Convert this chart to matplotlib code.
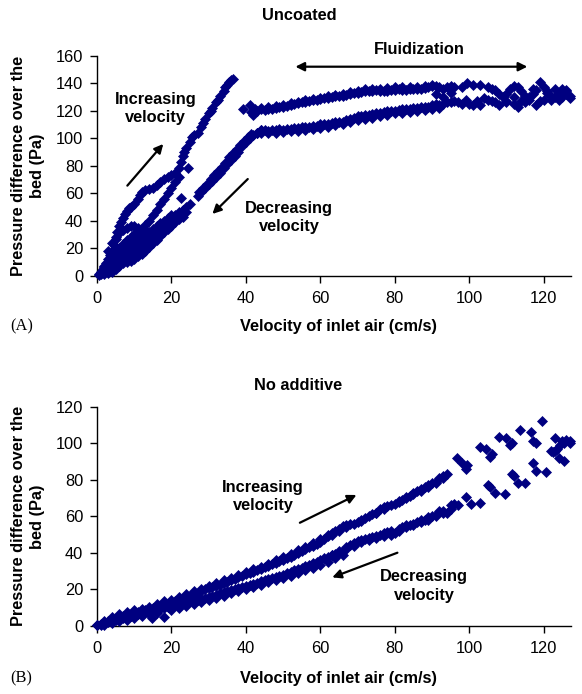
import matplotlib
matplotlib.use('Agg')
import matplotlib.pyplot as plt

plt.rcParams['font.family'] = ['Liberation Sans', 'DejaVu Sans']

NAVY = '#000080'
FS = 11.8

# ---------------- (A) Uncoated ----------------
# first rise (outer band)
ua_x = [0.5, 1, 1.5, 2, 2.5, 3, 3.5, 4, 4.5, 5, 5.5, 6, 6.5, 7, 7.5, 8, 8.5, 9, 10, 11,
        11.5, 12, 13, 14, 15, 16, 17, 18, 19, 20, 21, 22, 22.5, 23, 23.5, 24, 25, 25.5, 26, 27,
        28, 28.5, 29, 30, 30.5, 31, 32, 32.5, 33, 34, 34.5, 35, 35.5, 36, 36.5]
ua_y = [1, 3, 5, 7, 9, 12, 15, 18, 22, 27, 32, 36, 39, 42, 45, 47, 49, 50, 52, 56,
        59, 61, 62, 63, 64, 66, 68, 70, 72, 73, 75, 78, 83, 87, 90, 93, 97, 101, 102, 104,
        108, 111, 114, 118, 120, 122, 126, 128, 131, 134, 137, 139, 141, 142, 143]
# inner rise
ub_x = [1, 2, 3, 4, 5, 6, 7, 8, 9, 10, 11, 12, 13, 14, 15, 16, 17, 18, 19, 20, 21, 22]
ub_y = [2, 5, 9, 13, 17, 20, 23, 26, 28, 30, 32, 34, 37, 40, 44, 48, 52, 56, 60, 64, 68, 72]
# small loop
uc_x = [3, 4, 5, 6, 7, 8, 9, 10, 11, 12, 13, 14, 15, 16, 17]
uc_y = [18, 24, 28, 31, 33, 35, 36, 36, 35, 34, 33, 31, 30, 30, 31]
# decreasing branch
da_x = [0.5, 1, 2, 3, 4, 5, 6, 7, 8, 9, 10, 11, 12, 13, 14, 15, 16, 17, 18, 19,
        20, 21, 22, 23, 24, 25, 27, 28, 29, 30, 31, 32, 33, 34, 35, 36, 37, 38, 39, 40,
        41, 42, 43, 44]
da_y = [0.5, 1.5, 3, 4, 6, 8, 10, 12, 14, 16, 18, 20, 22, 24, 27, 30, 32, 34, 37, 39,
        41, 44, 46, 48, 50, 52, 58, 61, 64, 67, 69, 72, 75, 78, 81, 84, 87, 90, 94, 97,
        100, 102, 104, 106]
db_x = [1, 2, 3, 4, 5, 6, 7, 8, 9, 10, 11, 12, 13, 14, 15, 16, 17, 18, 19, 20]
db_y = [3, 6, 8, 11, 14, 16, 18, 20, 22, 24, 26, 28, 30, 32, 34, 36, 38, 40, 42, 44]
dc_x = [2, 3, 4, 5, 6, 7, 8, 9, 10, 11, 12, 13, 14, 15, 16, 17, 18, 19, 20, 21, 22, 23, 24]
dc_y = [1, 2, 3, 5, 7, 9, 10, 11, 12, 14, 16, 18, 21, 24, 26, 29, 32, 34, 36, 39, 41, 43, 46]
dd_x = [27.5, 28.5, 29.5, 30.5, 31.5, 32.5, 33.5, 34.5, 35.5, 36.5, 37.5, 38.5, 39.5, 40.5, 41.5]
dd_y = [61, 64, 67, 70, 73, 76, 79, 82, 86, 89, 92, 95, 98, 101, 103]
iso_x = [22.6, 24.4]
iso_y = [56.5, 78.5]
# fluidization, upper run
ph_x = [39.2, 41, 41.5, 42, 42.5, 43, 44, 45, 46, 47, 48, 49, 50, 51, 52, 53, 54, 55, 56, 57,
        58, 59, 60, 61, 62, 63, 64, 65, 66, 67, 68, 69, 70, 71, 72, 73, 74, 75, 76, 77,
        78, 79, 80, 81, 82, 83, 84, 85, 86, 87, 88, 89, 90, 91, 92, 93, 94, 95, 96, 98,
        99.5, 101, 103, 105, 106, 107, 108, 109, 110, 111, 112, 113, 114, 115, 116, 117, 118, 119, 120, 121,
        122, 123, 124, 125, 126, 127]
ph_y = [121.5, 124, 119, 117, 121, 120, 121, 120.5, 121, 121.5, 122, 122.5, 123, 123.5, 124, 125, 125.5, 126, 126.5, 127,
        127.5, 128, 128.5, 129, 129.5, 130, 130.5, 131, 131, 131.5, 132, 133, 133, 133.5, 134, 134, 134.5, 135, 134, 134,
        134.5, 135, 135, 135.5, 135, 135, 135.5, 136, 136, 136, 136.5, 137, 138, 138, 137, 136, 137, 138, 137, 137,
        140, 139, 139, 137, 136, 135, 132, 130, 132, 136, 138, 137, 134, 131, 130, 136, 135, 141, 137, 134,
        131, 130, 133, 136, 134, 131]
ph2_x = [44, 46, 48, 50, 52, 54, 56, 58, 60, 62, 64, 66, 68, 70, 72, 74, 76, 78, 80, 82, 84, 86, 88, 90]
ph2_y = [122, 122.5, 123.5, 124.5, 125.5, 126.5, 127.5, 128.5, 129.5, 130.5, 131.5, 132.5, 133.5, 134.5, 135.5, 136,
         136, 136.5, 137, 137, 137.5, 137.5, 138, 138.5]
# fluidization, lower run
pl_x = [43, 44, 45, 46, 47, 48, 49, 50, 51, 52, 53, 54, 55, 56, 57, 58, 59, 60, 61, 62,
        63, 64, 65, 66, 67, 68, 69, 70, 71, 72, 73, 74, 75, 76, 77, 78, 79, 80, 81, 82,
        83, 84, 85, 86, 87, 88, 89, 90, 91, 92, 93, 94, 95, 96, 97, 98, 99, 100, 101, 102,
        103, 104, 105, 106, 107, 108, 110, 112, 113, 114, 116, 118, 119, 120, 122, 124, 125, 126, 127]
pl_y = [104, 106, 106, 105, 106, 106, 106.5, 106, 107, 107, 107.5, 107.5, 108, 108, 108.5, 109, 109, 110, 110, 110.5,
        111, 111.5, 112, 112, 113, 114, 115, 116, 116.5, 117, 117, 117.5, 118, 118, 119, 119.5, 120, 120, 120.5, 121,
        121, 121.5, 122, 122, 122.5, 123, 123, 124, 125, 124, 125, 126, 126, 127, 126, 125, 128, 125, 124, 127,
        124, 129, 128, 127, 126, 124, 126, 125, 123, 127, 128, 124, 127, 128, 128, 129, 130, 132, 129]
pl2_x = [44, 46, 48, 50, 52, 54, 56, 58, 60, 62, 64, 66, 68, 70, 72, 74, 76, 78, 80, 82, 84, 86, 88, 90, 92]
pl2_y = [103.5, 104, 104, 104.5, 105, 105.5, 106, 106.5, 107.5, 108.5, 109.5, 110.5, 111.5, 113, 114, 115, 116, 117,
         118, 118.5, 119, 120, 120.5, 121, 122]
# scattered points between runs at high velocity
sc_x = [91, 93, 95, 110, 112, 115, 117, 121, 123, 124, 125, 126]
sc_y = [132, 130, 133, 127, 130, 126, 132, 133, 136, 128, 133, 135]

# ---------------- (B) No additive ----------------
bu_x = [0, 1, 2, 3, 4, 5, 6, 7, 8, 9, 10, 11, 12, 13, 14, 15, 16, 17, 18, 19,
        20, 21, 22, 23, 24, 25, 26, 27, 28, 29, 30, 31, 32, 33, 34, 35, 36, 37, 38, 39,
        40, 41, 42, 43, 44, 45, 46, 47, 48, 49, 50, 51, 52, 53, 54, 55, 56, 57, 58, 59,
        60, 61, 62, 63, 64, 65, 66, 67, 68, 70, 71, 72, 74, 75, 76, 77, 78, 80, 81, 82,
        83, 84, 85, 86, 87, 88, 89, 90, 91, 92, 93, 94, 96.6, 98, 99, 99.5, 103, 104.5, 105.5, 106,
        108, 110, 111, 111.5, 113.5, 116.5, 117, 118, 119.5, 122, 123, 123.5, 124.5, 125, 125.5, 126, 127]
bu_y = [0.5, 1.2, 2, 2.8, 3.5, 4.2, 5, 5.5, 6, 6.5, 7, 7.5, 8, 8.6, 9.2, 9.8, 10.4, 11, 11.6, 12.2,
        13, 13.6, 14.3, 15, 15.7, 16.5, 17.2, 18, 19, 20, 20.6, 21.2, 22, 22.7, 23.5, 24.3, 25, 25.8, 26.6, 27.4,
        28.2, 29, 29.8, 30.6, 31.4, 32.2, 33, 33.8, 34.6, 35.4, 36.2, 37, 38, 39, 40, 41, 42, 43, 44, 45,
        46, 47.5, 49, 51, 52, 53, 54.5, 55.5, 56, 57, 58, 59, 61.5, 62, 64, 65, 65.5, 67, 68.5, 69,
        70.5, 71, 72, 74, 75, 76, 77, 78, 79, 81, 82, 83, 91.8, 89, 86, 88, 98, 97, 92.5, 94,
        103.6, 103, 99, 100, 107, 106, 101, 100, 112, 96, 103, 97, 99, 101, 100, 102, 101]
bu2_x = [2, 4, 6, 8, 10, 12, 14, 16, 18, 20, 22, 24, 26, 28, 30, 32, 34, 36, 38, 40,
         42, 44, 46, 48, 50, 52, 54, 56, 58, 60, 62]
bu2_y = [3, 5, 6.5, 7.5, 8.5, 9.5, 10.5, 12, 13.5, 14.5, 16, 17.5, 19, 20.5, 22, 23.5, 25, 26.5, 28, 29.5,
         31, 32.5, 34, 36, 37.5, 39.5, 41.5, 43.5, 45.5, 47.5, 50]
bu3_x = [63, 65, 67, 69, 71, 73, 75, 77, 79, 81, 83, 85, 87, 89, 91, 93]
bu3_y = [50, 52, 54, 56, 57.5, 60, 62, 64, 66, 68, 70, 73, 74, 76, 78, 81]
bd_x = [0, 1, 2, 3, 4, 5, 6, 7, 8, 9, 10, 11, 12, 13, 14, 15, 16, 17, 18, 19,
        20, 21, 22, 23, 24, 25, 26, 27, 28, 29, 30, 31, 32, 33, 34, 35, 36, 37, 38, 39,
        40, 41, 42, 43, 44, 45, 46, 47, 48, 49, 50, 51, 52, 53, 54, 55, 56, 57, 58, 59,
        60, 61, 62, 63, 64, 65, 66, 67, 68, 69, 70, 71, 72, 73, 74, 75, 76, 77, 78, 79,
        80, 81, 82, 83, 84, 85, 86, 87, 88, 89, 90, 91, 92, 93, 94, 95, 96, 97, 99, 100.6,
        103, 105, 105.5, 107, 109.5, 111.5, 112, 113, 115, 117, 118, 120.5, 122.5, 123, 124, 125.5, 127]
bd_y = [0.3, 0.8, 1.4, 2, 2.6, 3.2, 3.8, 4.4, 5, 5.5, 6, 6.5, 7, 7.5, 8, 8.5, 9, 9.5, 10, 10.5,
        11, 11.5, 12, 12.5, 13, 13.5, 14, 14.5, 15, 15.5, 16, 16.6, 17.2, 17.8, 18.4, 19, 19.6, 20.2, 20.8, 21.4,
        22, 22.6, 23.2, 23.8, 24.4, 25, 25.6, 26.2, 26.8, 27.4, 28, 28.8, 29.6, 30.4, 31.2, 32, 32.8, 33.6, 34.4, 35.2,
        36, 37, 37.8, 38.6, 39.2, 40, 41, 43, 44.5, 45.5, 46.5, 47, 47.5, 48, 48.5, 49, 50, 51, 51.5, 52,
        51, 53, 54, 55, 55.5, 56, 57, 58, 58, 59.5, 60, 61, 63, 63, 62, 66, 67, 66, 70.8, 66.5,
        67.5, 77, 76, 72.6, 72, 83, 82, 78, 78, 89, 85, 84.5, 95, 96, 92, 90.5, 100]
bd2_x = [2, 4, 6, 8, 10, 12, 14, 14.9, 16, 18, 20, 22, 24, 26, 28, 30, 32, 34, 36, 38,
         40, 42, 44, 46, 48, 50, 52, 54, 56, 58, 60, 62, 64, 66]
bd2_y = [0.5, 1.5, 2.5, 3.5, 4.5, 5.5, 6.5, 4.2, 7, 5, 9, 10, 11, 12, 13, 14, 15.5, 16.5, 18, 19,
         20, 21.5, 22.5, 24, 25, 26.5, 27.5, 29, 30.5, 32, 33.5, 35, 37, 39]
bd3_x = [63, 65, 67, 69, 71, 73, 75, 77, 79, 81, 83, 85, 87, 89, 91, 93, 95]
bd3_y = [39, 41, 42, 44, 46, 47, 48, 49, 50, 52, 54, 55, 57, 58, 60, 62, 64]

fig = plt.figure(figsize=(5.82, 6.94), dpi=100)
ax1 = fig.add_axes([97 / 582, 1 - 275.7 / 694, 473.5 / 582, 220 / 694])
ax2 = fig.add_axes([97 / 582, 1 - 626 / 694, 473.5 / 582, 219.3 / 694])

mk = dict(ls='none', marker='D', ms=4.9, color=NAVY, mec=NAVY, mew=0.5, clip_on=False, zorder=3)
for xs, ys in [(ua_x, ua_y), (ub_x, ub_y), (uc_x, uc_y), (da_x, da_y), (db_x, db_y),
               (dc_x, dc_y), (dd_x, dd_y), (iso_x, iso_y), (ph_x, ph_y), (ph2_x, ph2_y),
               (pl_x, pl_y), (pl2_x, pl2_y), (sc_x, sc_y)]:
    ax1.plot(xs, ys, **mk)
for xs, ys in [(bu_x, bu_y), (bu2_x, bu2_y), (bu3_x, bu3_y),
               (bd_x, bd_y), (bd2_x, bd2_y), (bd3_x, bd3_y)]:
    ax2.plot(xs, ys, **mk)

for ax, ymax in [(ax1, 160), (ax2, 120)]:
    ax.set_xlim(0, 127.2)
    ax.set_ylim(0, ymax)
    ax.set_xticks(range(0, 121, 20))
    ax.set_yticks(range(0, ymax + 1, 20))
    ax.spines['top'].set_visible(False)
    ax.spines['right'].set_visible(False)
    ax.tick_params(direction='out', length=5, width=1, labelsize=FS)
    ax.tick_params(axis='x', pad=6)
    ax.tick_params(axis='y', pad=5)
    for s in ['left', 'bottom']:
        ax.spines[s].set_linewidth(1)

bold = dict(fontsize=FS, fontweight='bold')
arrow = dict(arrowstyle='-|>', color='black', lw=1.6, mutation_scale=13, shrinkA=0, shrinkB=0)

# titles / labels
fig.text(299 / 582, 1 - 15 / 694, 'Uncoated', ha='center', va='center', **bold)
fig.text(298 / 582, 1 - 385 / 694, 'No additive', ha='center', va='center', **bold)
for yc, ylab, yaxis in [(326, '(A)', 165.7), (678, '(B)', 516.3)]:
    fig.text(10 / 582, 1 - yc / 694, ylab, ha='left', va='center', fontsize=FS,
             family=['Liberation Serif', 'DejaVu Serif'])
    fig.text(338 / 582, 1 - yc / 694, 'Velocity of inlet air (cm/s)', ha='center', va='center', **bold)
    fig.text(28 / 582, 1 - yaxis / 694, 'Pressure difference over the\nbed (Pa)', rotation=90,
             ha='center', va='center', linespacing=1.35, multialignment='center', **bold)

# annotations (A)
ax1.text(86.7, 164.6, 'Fluidization', ha='center', va='center', clip_on=False, **bold)
ax1.annotate('', xy=(115.6, 152), xytext=(53.3, 152), annotation_clip=False,
             arrowprops=dict(arrow, arrowstyle='<|-|>'))
ax1.text(15.8, 121.6, 'Increasing\nvelocity', ha='center', va='center', linespacing=1.3, **bold)
ax1.annotate('', xy=(17.8, 95.8), xytext=(8.15, 65.5), arrowprops=arrow)
ax1.text(51.6, 42.3, 'Decreasing\nvelocity', ha='center', va='center', linespacing=1.3, **bold)
ax1.annotate('', xy=(31, 44.9), xytext=(40.5, 70.3), arrowprops=arrow)

# annotations (B)
ax2.text(44.6, 70.9, 'Increasing\nvelocity', ha='center', va='center', linespacing=1.3, **bold)
ax2.annotate('', xy=(69.7, 71.7), xytext=(54.5, 56.5), arrowprops=arrow)
ax2.text(87.9, 22, 'Decreasing\nvelocity', ha='center', va='center', linespacing=1.3, **bold)
ax2.annotate('', xy=(63.2, 26.6), xytext=(80.7, 40.1), arrowprops=arrow)

fig.savefig('out.png', dpi=100)
